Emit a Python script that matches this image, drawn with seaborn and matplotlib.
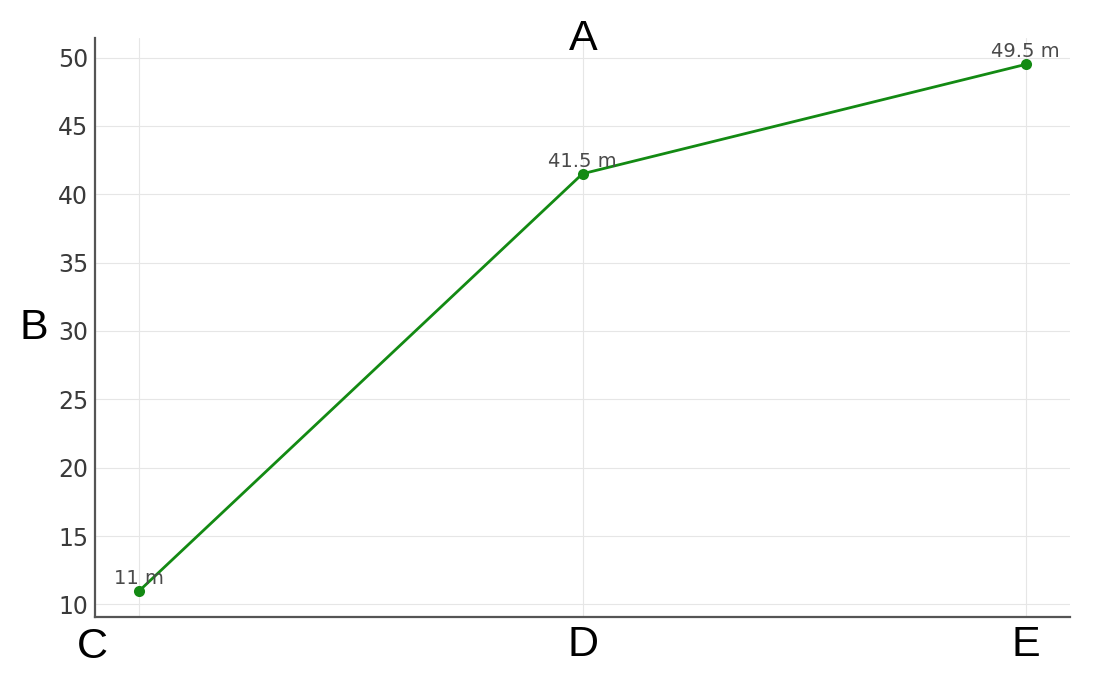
import pandas as pd
import matplotlib.pyplot as plt
import seaborn as sns

# datos del grafico
categories = ['C', 'D', 'E']
values = [11, 41.5, 49.5]
value_labels = ['11 m', '41.5 m', '49.5 m']

sns.set_style('whitegrid', {'grid.color': '#e6e6e6', 'axes.edgecolor': '#555555'})
plt.rcParams['font.family'] = ['DejaVu Sans']

df = pd.DataFrame({'pos': range(len(categories)), 'valor': values})

fig = plt.figure(figsize=(11, 6.8), dpi=100)
ax = fig.add_axes([0.0864, 0.0926, 0.8863, 0.8514])

sns.lineplot(x='pos', y='valor', data=df, ax=ax, color='#138a13', linewidth=2,
             marker='o', markersize=8, markeredgewidth=0)

for x, y, lab in zip(df['pos'], df['valor'], value_labels):
    ax.annotate(lab, (x, y), xytext=(0, 5), textcoords='offset points',
                ha='center', va='baseline', fontsize=14, color='#4a4a4a')

ax.set_xticks(list(df['pos']))
ax.set_xticklabels([''] + categories[1:], fontsize=31, family='Liberation Sans', color='black')
ax.text(-0.105, -0.018, categories[0], transform=ax.get_xaxis_transform(),
        ha='center', va='top', fontsize=31, family='Liberation Sans', color='black')
ax.set_yticks(range(10, 51, 5))
ax.tick_params(axis='y', labelsize=17, labelcolor='#3a3a3a', direction='in', length=5,
               color='#555555', pad=5)
ax.tick_params(axis='x', direction='in', length=5, color='#555555', pad=6)
ax.margins(x=0.05, y=0.05)

ax.set_xlabel('')
ax.set_ylabel('B', rotation=0, fontsize=31, family='Liberation Sans', color='black', labelpad=17, va='center')
fig.text(0.53, 0.943, 'A', ha='center', va='center', fontsize=31, family='Liberation Sans', color='black')

for s in ['top', 'right']:
    ax.spines[s].set_visible(False)
for s in ['left', 'bottom']:
    ax.spines[s].set_linewidth(1.6)

fig.savefig('out.png', dpi=100)
